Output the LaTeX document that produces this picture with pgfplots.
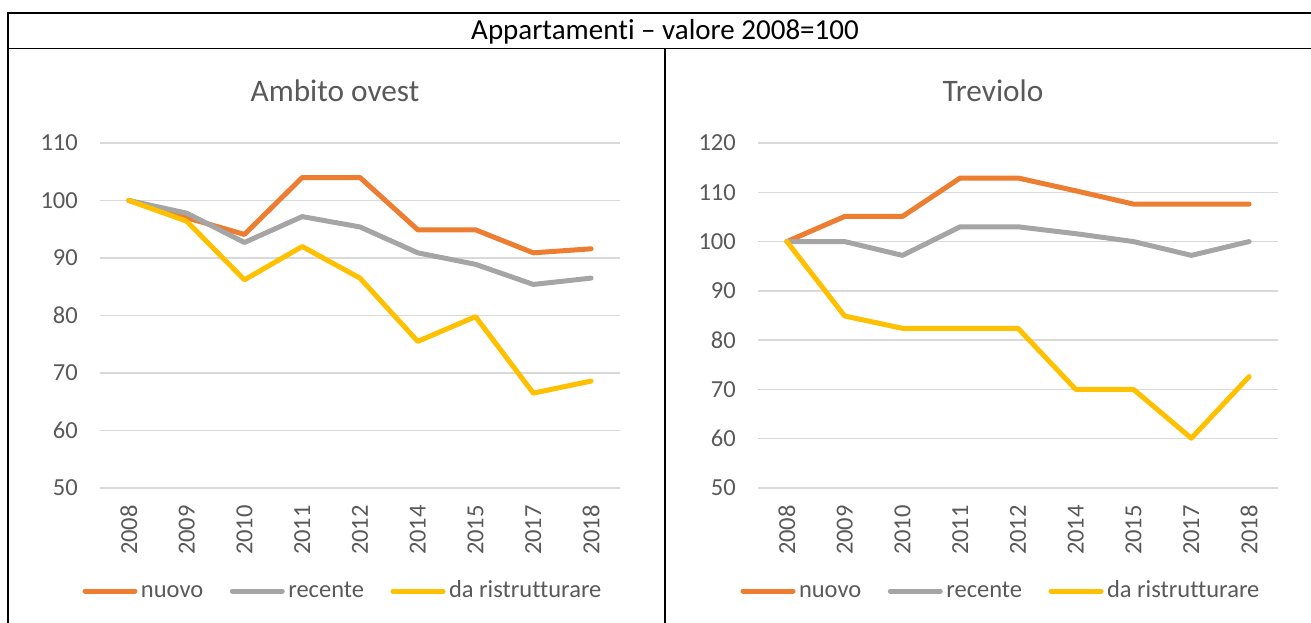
\documentclass[border=0pt]{standalone}
\usepackage{pgfplots}
\pgfplotsset{compat=1.18}
\usepackage{fontspec}
\setmainfont{Carlito}[Ligatures=NoCommon]
\definecolor{cnuovo}{HTML}{ED7D31}
\definecolor{crecente}{HTML}{A5A5A5}
\definecolor{cda}{HTML}{FFC000}
\definecolor{ctext}{HTML}{595959}
\definecolor{cgrid}{HTML}{D9D9D9}
\pgfplotsset{
  mychart/.style={
    scale only axis, width=520pt, height=345pt,
    anchor=south west,
    xmin=-0.5, xmax=8.5, ymin=50,
    xtick={0,...,8},
    xticklabels={2008,2009,2010,2011,2012,2014,2015,2017,2018},
    axis line style={draw=none}, major tick length=0pt,
    ymajorgrids, grid style={cgrid, line width=1.5pt},
    /pgf/number format/assume math mode=true,
    tick label style={font=\fontsize{24.5}{29}\selectfont, text=ctext},
    yticklabel style={anchor=east, inner xsep=22pt, inner ysep=0pt},
    xticklabel style={rotate=90, anchor=east, inner xsep=17pt, inner ysep=0pt},
    every axis plot/.append style={line width=5pt, line cap=round, line join=round, mark=none},
    legend columns=3,
    legend style={draw=none, fill=none, inner sep=0pt, outer sep=0pt,
      at={(axis description cs:-0.03846,-0.29855)}, anchor=west,
      font=\fontsize{24.5}{29}\selectfont, text=ctext,
      nodes={inner xsep=1pt, inner ysep=0pt, text height=15pt, text depth=3pt},
      /tikz/every even column/.append style={column sep=23pt}},
    legend image code/.code={\draw[##1,line cap=round] (2.5pt,0pt) -- (52.5pt,0pt); \path (0pt,-9pt) (55pt,9pt);},
  }
}
\begin{document}
\begin{tikzpicture}
\useasboundingbox (0,0) rectangle (1311pt,-623pt);
\draw[line width=2pt] (7pt,-13pt) -- (1311pt,-13pt);
\draw[line width=2pt] (8pt,-12pt) -- (8pt,-623pt);
\draw[line width=1pt] (7pt,-49pt) -- (1311pt,-49pt);
\draw[line width=2pt] (665pt,-49pt) -- (665pt,-623pt);
\node[font=\fontsize{29}{34}\selectfont, text=black] at (665pt,-32pt) {Appartamenti – valore 2008=100};
\node[font=\fontsize{31.3}{37}\selectfont, text=ctext] at (335pt,-91pt) {Ambito ovest};
\node[font=\fontsize{31.3}{37}\selectfont, text=ctext] at (993pt,-91pt) {Treviolo};

\begin{axis}[mychart, at={(100pt,-488pt)}, ymax=110, ytick={50,60,...,110}]
\addplot[cnuovo] coordinates {(0,100) (1,97) (2,94.1) (3,104) (4,104) (5,94.9) (6,94.9) (7,90.9) (8,91.6)};
\addlegendentry{nuovo}
\addplot[crecente] coordinates {(0,100) (1,97.8) (2,92.7) (3,97.2) (4,95.4) (5,90.9) (6,88.9) (7,85.4) (8,86.5)};
\addlegendentry{recente}
\addplot[cda] coordinates {(0,100) (1,96.4) (2,86.2) (3,92.0) (4,86.5) (5,75.5) (6,79.8) (7,66.5) (8,68.6)};
\addlegendentry{da ristrutturare}
\end{axis}

\begin{axis}[mychart, at={(758pt,-488pt)}, ymax=120, ytick={50,60,...,120}]
\addplot[cnuovo] coordinates {(0,100) (1,105.1) (2,105.1) (3,112.9) (4,112.9) (5,110.3) (6,107.6) (7,107.6) (8,107.6)};
\addlegendentry{nuovo}
\addplot[crecente] coordinates {(0,100) (1,100) (2,97.2) (3,103) (4,103) (5,101.6) (6,100) (7,97.2) (8,100)};
\addlegendentry{recente}
\addplot[cda] coordinates {(0,100) (1,84.9) (2,82.4) (3,82.4) (4,82.4) (5,70) (6,70) (7,60.1) (8,72.6)};
\addlegendentry{da ristrutturare}
\end{axis}
\end{tikzpicture}
\end{document}
